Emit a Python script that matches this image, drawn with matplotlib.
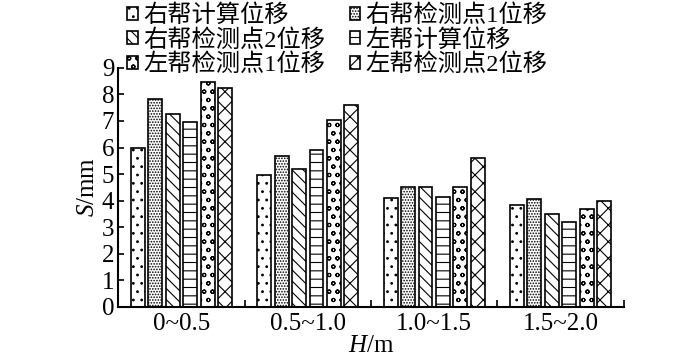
import numpy as np
import matplotlib
matplotlib.use("Agg")
import matplotlib.pyplot as plt

# === DATA ===
groups = ["0~0.5", "0.5~1.0", "1.0~1.5", "1.5~2.0"]
series_names = ["右帮计算位移", "右帮检测点1位移", "右帮检测点2位移",
                "左帮计算位移", "左帮检测点1位移", "左帮检测点2位移"]
right_calc = [6.0, 4.95, 4.1, 3.85]
right_pt1 = [7.82, 5.7, 4.5, 4.05]
right_pt2 = [7.26, 5.2, 4.5, 3.5]
left_calc = [6.95, 5.9, 4.15, 3.2]
left_pt1 = [8.46, 7.05, 4.5, 3.7]
left_pt2 = [8.23, 7.6, 5.6, 4.0]
hatches = ["..", "......", "\\\\\\", "--", "oo", "xx"]

plt.rcParams['font.family'] = ['Liberation Serif', 'Noto Sans CJK SC']
plt.rcParams['hatch.linewidth'] = 0.8
plt.rcParams['mathtext.fontset'] = 'custom'
plt.rcParams['mathtext.it'] = 'Liberation Serif:italic'
plt.rcParams['mathtext.rm'] = 'Liberation Serif'

fig = plt.figure(figsize=(7, 3.59), dpi=100)
ax = fig.add_axes([0.169, 0.145, 0.722, 0.666])

series = [right_calc, right_pt1, right_pt2, left_calc, left_pt1, left_pt2]
x = np.arange(len(groups))
pitch = 0.138
width = 0.11
bars = []
for i, vals in enumerate(series):
    off = (i - 2.5) * pitch
    b = ax.bar(x + off, vals, width, color="white", edgecolor="black",
               linewidth=1.2, hatch=hatches[i], label=series_names[i])
    bars.append(b)

ax.set_xlim(-0.5, 3.5)
ax.set_ylim(0, 9)
ax.set_yticks(range(10))
ax.set_xticks(x)
ax.set_xticklabels(groups)
ax.set_xticks([0.5, 1.5, 2.5, 3.5], minor=True)
ax.tick_params(axis="x", which="major", length=0, labelsize=18, pad=4)
ax.tick_params(axis="x", which="minor", direction="in", length=5, width=1.2)
ax.tick_params(axis="y", direction="in", length=4, width=1.2, labelsize=18, pad=3)
for s in ["top", "right"]:
    ax.spines[s].set_visible(False)
for s in ["left", "bottom"]:
    ax.spines[s].set_linewidth(1.5)

ax.set_xlabel("$H$/m", fontsize=18, labelpad=0)
ax.set_ylabel("$S$/mm", fontsize=18, labelpad=2)

# row-wise legend order: matplotlib fills columns first
order = [0, 2, 4, 1, 3, 5]
ax.legend([bars[i] for i in order], [series_names[i] for i in order],
          ncol=2, loc="upper left", bbox_to_anchor=(0.018, 1.265),
          frameon=False, fontsize=17.5, handlelength=0.45, handleheight=0.45,
          handletextpad=0.2, columnspacing=1.0, labelspacing=0.07,
          borderaxespad=0, borderpad=0)

fig.savefig("out.png", dpi=100)
